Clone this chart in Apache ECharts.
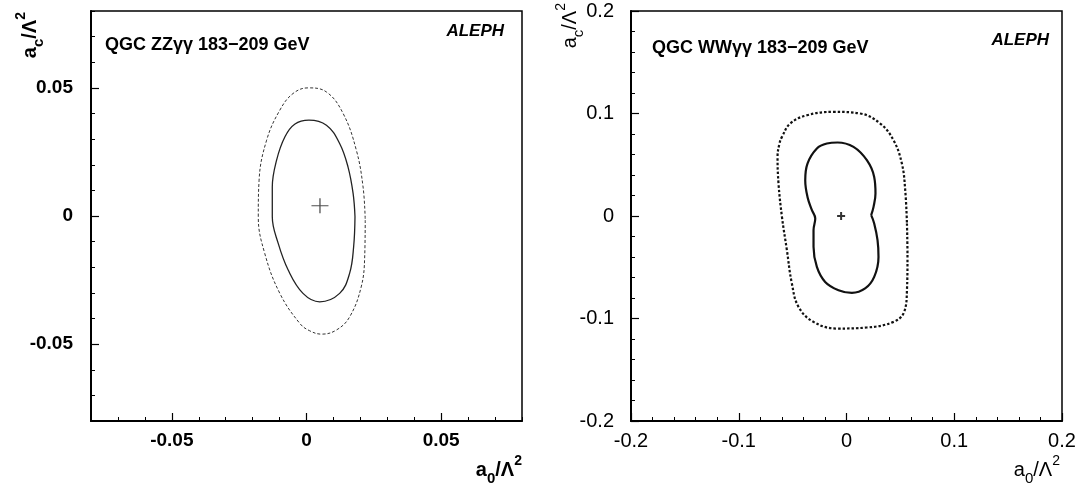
<!DOCTYPE html>
<html><head><meta charset="utf-8">
<script src="https://cdn.jsdelivr.net/npm/echarts@6/dist/echarts.min.js"></script>
<style>html,body{margin:0;padding:0;background:#fff}#c{width:1082px;height:492px}</style>
</head><body><div id="c"></div>
<script>
// ---- data: left panel (ZZγγ) ----
const zzInner = [[0.018,-0.0003],[0.0175,-0.012],[0.016,-0.0224],[0.0123,-0.0302],[0.0049,-0.0335],[-0.0013,-0.0302],[-0.0068,-0.0211],[-0.0105,-0.0107],[-0.0127,-0.0003],[-0.0127,0.0113],[-0.0111,0.0218],[-0.008,0.0309],[-0.0044,0.0358],[0.0009,0.0374],[0.0074,0.0354],[0.0123,0.0283],[0.0154,0.0192],[0.0173,0.0088]];
const zzOuter = [[0.0218,-0.0016],[0.0216,-0.016],[0.0203,-0.0277],[0.016,-0.0394],[0.0111,-0.0445],[0.0056,-0.0461],[0.0012,-0.0448],[-0.0025,-0.0419],[-0.0099,-0.0302],[-0.0155,-0.0146],[-0.0179,-0.0003],[-0.0176,0.014],[-0.0148,0.0296],[-0.0099,0.0413],[-0.005,0.0478],[0.0006,0.05],[0.0074,0.0484],[0.0136,0.04],[0.0185,0.0257],[0.021,0.0113]];
const zzBest = [[0.005,0.004]];
const zzTicks = [-0.05, 0, 0.05];
// ---- data: right panel (WWγγ) ----
const wwInner = [[0.0229,0.0008],[0.0257,-0.0073],[0.0288,-0.0236],[0.0297,-0.0399],[0.0257,-0.0594],[0.0173,-0.0707],[0.005,-0.075],[-0.0074,-0.0724],[-0.0198,-0.0643],[-0.0275,-0.0497],[-0.0306,-0.0301],[-0.0306,-0.0139],[-0.029,-0.0024],[-0.0321,0.0057],[-0.0362,0.0186],[-0.0383,0.0349],[-0.0362,0.0512],[-0.0275,0.0659],[-0.0182,0.0707],[-0.0083,0.0717],[0.0065,0.0674],[0.0189,0.0544],[0.0257,0.0381],[0.0269,0.022],[0.0251,0.0089]];
const wwOuter = [[0.0561,-0.0073],[0.0566,-0.0399],[0.0561,-0.0724],[0.0535,-0.0936],[0.0436,-0.1033],[0.0189,-0.1088],[-0.0089,-0.1098],[-0.0306,-0.1033],[-0.0445,-0.0887],[-0.0507,-0.0659],[-0.0553,-0.0334],[-0.0599,-0.0009],[-0.0631,0.0317],[-0.064,0.0577],[-0.0622,0.0707],[-0.0599,0.0772],[-0.0522,0.0902],[-0.0367,0.0983],[-0.0121,0.1016],[0.0127,0.1],[0.0313,0.0902],[0.0436,0.074],[0.0514,0.0512],[0.0545,0.0252]];
const wwBest = [[-0.005,0]];
const wwTicks = [-0.2,-0.1,0,0.1,0.2];

const titleL = 'QGC ZZγγ 183−209 GeV';
const titleR = 'QGC WWγγ 183−209 GeV';
const expName = 'ALEPH';

const close = a => a.concat([a[0]]);
const FONT = '"Liberation Sans", Arial, sans-serif';
const CROSS = 'path://M0,5L10,5M5,0L5,10';

function rich(bold){
  const w = bold ? 'bold' : 'normal';
  return {
    a:{fontSize:20,fontWeight:w,fontFamily:FONT,color:'#000',lineHeight:32,verticalAlign:'middle'},
    s:{fontSize:15,fontWeight:w,fontFamily:FONT,color:'#000',lineHeight:14,verticalAlign:'bottom'},
    p:{fontSize:14,fontWeight:w,fontFamily:FONT,color:'#000',lineHeight:14,verticalAlign:'top'}
  };
}
function axisLbl(bold){
  return {color:'#000',fontFamily:FONT,fontSize:bold?19:20,fontWeight:bold?'bold':'normal'};
}

const option = {
  animation:false,
  grid:[
    {left:91,top:11,width:431,height:410,show:true,borderColor:'#000',borderWidth:1.5,outerBoundsMode:'none'},
    {left:631,top:11,width:431,height:410,show:true,borderColor:'#000',borderWidth:1.5,outerBoundsMode:'none'}
  ],
  xAxis:[
    {gridIndex:0,type:'value',min:-0.08,max:0.08,position:'bottom',
     axisLine:{show:true,onZero:false,lineStyle:{color:'#000',width:2}},
     axisTick:{show:true,inside:true,length:8,customValues:zzTicks,lineStyle:{color:'#000',width:1.2}},
     axisLabel:Object.assign({show:true,margin:10,customValues:zzTicks,formatter:v=>v===0?'0':v.toFixed(2)},axisLbl(true)),
     splitLine:{show:false}},
    {gridIndex:0,type:'value',min:-0.08,max:0.08,interval:0.01,position:'bottom',
     axisLine:{show:false,onZero:false},
     axisTick:{show:true,inside:true,length:4,lineStyle:{color:'#000',width:1}},
     axisLabel:{show:false},splitLine:{show:false}},
    {gridIndex:1,type:'value',min:-0.2,max:0.2,interval:0.1,position:'bottom',
     axisLine:{show:true,onZero:false,lineStyle:{color:'#000',width:2}},
     axisTick:{show:true,inside:true,length:8,lineStyle:{color:'#000',width:1.2}},
     minorTick:{show:true,splitNumber:5,length:4,lineStyle:{color:'#000',width:1}},
     axisLabel:Object.assign({show:true,margin:10,showMinLabel:true,showMaxLabel:true,formatter:v=>v===0?'0':String(+v.toFixed(1))},axisLbl(false)),
     splitLine:{show:false},minorSplitLine:{show:false}}
  ],
  yAxis:[
    {gridIndex:0,type:'value',min:-0.08,max:0.08,position:'left',
     axisLine:{show:true,onZero:false,lineStyle:{color:'#000',width:2}},
     axisTick:{show:true,inside:true,length:8,customValues:zzTicks,lineStyle:{color:'#000',width:1.2}},
     axisLabel:Object.assign({show:true,margin:18,customValues:zzTicks,formatter:v=>v===0?'0':v.toFixed(2)},axisLbl(true)),
     splitLine:{show:false}},
    {gridIndex:0,type:'value',min:-0.08,max:0.08,interval:0.01,position:'left',
     axisLine:{show:false,onZero:false},
     axisTick:{show:true,inside:true,length:4,lineStyle:{color:'#000',width:1}},
     axisLabel:{show:false},splitLine:{show:false}},
    {gridIndex:1,type:'value',min:-0.2,max:0.2,interval:0.1,position:'left',
     axisLine:{show:true,onZero:false,lineStyle:{color:'#000',width:2}},
     axisTick:{show:true,inside:true,length:8,lineStyle:{color:'#000',width:1.2}},
     minorTick:{show:true,splitNumber:5,length:4,lineStyle:{color:'#000',width:1}},
     axisLabel:Object.assign({show:true,margin:17,showMinLabel:true,showMaxLabel:true,formatter:v=>v===0?'0':String(+v.toFixed(1))},axisLbl(false)),
     splitLine:{show:false},minorSplitLine:{show:false}}
  ],
  series:[
    {type:'line',xAxisIndex:0,yAxisIndex:0,data:close(zzInner),smooth:0.4,showSymbol:false,silent:true,
     lineStyle:{color:'#222',width:1.3,type:'solid'}},
    {type:'line',xAxisIndex:0,yAxisIndex:0,data:close(zzOuter),smooth:0.4,showSymbol:false,silent:true,
     lineStyle:{color:'#333',width:1,type:[3,2]}},
    {type:'scatter',xAxisIndex:0,yAxisIndex:0,data:zzBest,symbol:CROSS,symbolSize:[17,15],silent:true,
     itemStyle:{color:'rgba(0,0,0,0)',borderColor:'#222',borderWidth:1.2}},
    {type:'line',xAxisIndex:2,yAxisIndex:2,data:close(wwInner),smooth:0.4,showSymbol:false,silent:true,
     lineStyle:{color:'#111',width:2.2,type:'solid'}},
    {type:'line',xAxisIndex:2,yAxisIndex:2,data:close(wwOuter),smooth:0.4,showSymbol:false,silent:true,
     lineStyle:{color:'#111',width:2.2,type:[2.5,2]}},
    {type:'scatter',xAxisIndex:2,yAxisIndex:2,data:wwBest,symbol:CROSS,symbolSize:[8,8],silent:true,
     itemStyle:{color:'rgba(0,0,0,0)',borderColor:'#000',borderWidth:2}}
  ],
  graphic:[
    {type:'text',x:105,y:45,style:{text:titleL,font:'bold 18px '+FONT,fill:'#000',align:'left',verticalAlign:'middle'}},
    {type:'text',x:504,y:31,style:{text:expName,font:'italic bold 17px '+FONT,fill:'#000',align:'right',verticalAlign:'middle'}},
    {type:'text',x:652,y:48,style:{text:titleR,font:'bold 18px '+FONT,fill:'#000',align:'left',verticalAlign:'middle'}},
    {type:'text',x:1049,y:40,style:{text:expName,font:'italic bold 17px '+FONT,fill:'#000',align:'right',verticalAlign:'middle'}},
    {type:'text',x:522,y:454,style:{text:'{a|a}{s|0}{a|/Λ}{p|2}',rich:rich(true),align:'right',verticalAlign:'top'}},
    {type:'text',x:1060,y:454,style:{text:'{a|a}{s|0}{a|/Λ}{p|2}',rich:rich(false),align:'right',verticalAlign:'top'}},
    {type:'text',x:30,y:12,rotation:Math.PI/2,style:{text:'{a|a}{s|c}{a|/Λ}{p|2}',rich:rich(true),align:'right',verticalAlign:'middle'}},
    {type:'text',x:570,y:3,rotation:Math.PI/2,style:{text:'{a|a}{s|c}{a|/Λ}{p|2}',rich:rich(false),align:'right',verticalAlign:'middle'}}
  ]
};
const chart = echarts.init(document.getElementById('c'), null, {renderer:'canvas'});
chart.setOption(option);
</script>
</body></html>
